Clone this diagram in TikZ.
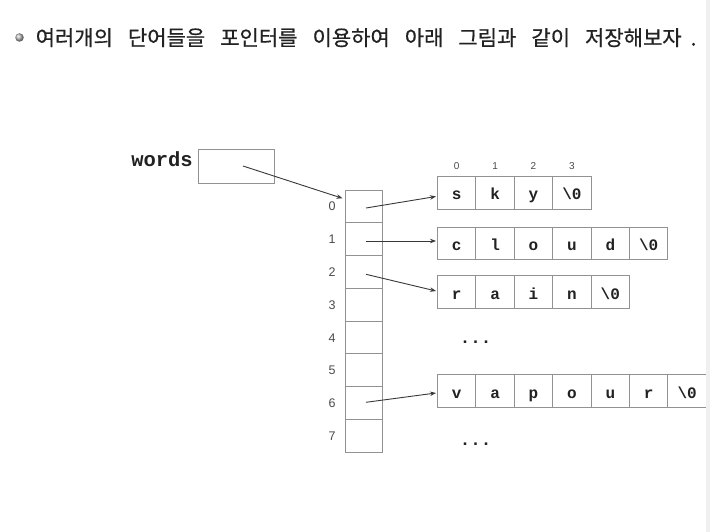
\documentclass[tikz,border=0pt]{standalone}
\usepackage{fontspec}
\setmainfont{Liberation Sans}
\newfontfamily\krfont[FakeBold=0.6]{Noto Sans CJK KR}
\newfontfamily\cellmono{Liberation Mono}
\usetikzlibrary{arrows.meta}
\newcommand\zchar{\textbackslash0}
\definecolor{boxgray}{HTML}{929292}
\definecolor{ptrgray}{HTML}{383838}
\definecolor{txtdark}{HTML}{222222}
\definecolor{lblgray}{HTML}{4A4A4A}
\tikzset{
  acell/.style={draw=boxgray, line width=0.9pt, minimum width=37.5pt, minimum height=32.75pt, inner sep=0pt},
  ccell/.style={draw=boxgray, line width=0.9pt, minimum width=38.4pt, minimum height=32.6pt, inner sep=0pt,
                text height=14pt, text depth=0pt, font=\cellmono\bfseries\fontsize{16}{16}\selectfont, text=txtdark},
  idxlabel/.style={anchor=base, inner sep=0pt, font=\fontsize{12.5}{13}\selectfont, text=lblgray},
  toplabel/.style={anchor=base, inner sep=0pt, font=\fontsize{10}{10}\selectfont, text=lblgray},
  ptr/.style={draw=ptrgray, line width=0.9pt, -{Stealth[length=6pt,width=4.5pt]}},
  dotsnode/.style={anchor=base, inner sep=0pt, font=\cellmono\bfseries\fontsize{17.5}{17.5}\selectfont, text=txtdark}
}
\begin{document}
\begin{tikzpicture}[x=1pt,y=-1pt]
\useasboundingbox (0,0) rectangle (710,532);
\fill[white] (0,0) rectangle (710,532);

% title
\node[circle, minimum size=8.5pt, inner sep=0pt, shading=ball, ball color=gray!55] (bullet) at (19.5,37.5) {};
\node[anchor=base west, inner sep=0pt, font=\krfont\fontsize{21}{21}\selectfont, text=txtdark] (title) at (35.5,45.5)
 {여러개의\hspace{15pt}단어들을\hspace{15pt}포인터를\hspace{15pt}이용하여\hspace{15pt}아래\hspace{15pt}그림과\hspace{15pt}같이\hspace{15pt}저장해보자\hspace{9pt}.};

% words box
\node[anchor=base east, inner sep=0pt, font=\cellmono\bfseries\fontsize{20.5}{20.5}\selectfont, text=txtdark] (wlabel) at (193,167) {words};
\node[draw=boxgray, line width=0.9pt, minimum width=75.6pt, minimum height=34.3pt, inner sep=0pt] (wbox) at (236.5,166.2) {};

% array
\foreach \i in {0,...,7} {
  \node[acell] (a\i) at (363.8, 206.35+\i*32.75) {};
  \node[idxlabel] (l\i) at (332, 211+\i*32.75) {\i};
}

% rows
\foreach \ch [count=\k from 0] in {s,k,y,\zchar} {
  \node[ccell] (sky\k) at (456.7+\k*38.4, 193) {\ch};
  \node[toplabel] (t\k) at (456.7+\k*38.4, 170) {\k};
}
\foreach \ch [count=\k from 0] in {c,l,o,u,d,\zchar}
  \node[ccell] (cloud\k) at (456.7+\k*38.4, 243.3) {\ch};
\foreach \ch [count=\k from 0] in {r,a,i,n,\zchar}
  \node[ccell] (rain\k) at (456.7+\k*38.4, 292.2) {\ch};
\foreach \ch [count=\k from 0] in {v,a,p,o,u,r,\zchar}
  \node[ccell] (vap\k) at (456.7+\k*38.4, 391.2) {\ch};

\node[dotsnode] (dotsA) at (475.5,343.5) {...};
\node[dotsnode] (dotsB) at (475.5,445) {...};

% pointers
\coordinate (ws) at (243,166);
\coordinate (we) at (342.5,198.3);
\draw[ptr] (ws) -- (we);
\coordinate (p0) at (366,208);   \coordinate (q0) at (436,196.5);
\coordinate (p1) at (366,241);   \coordinate (q1) at (436,241);
\coordinate (p2) at (366,274.3); \coordinate (q2) at (436,291);
\coordinate (p6) at (366,402.3); \coordinate (q6) at (436,393);
\draw[ptr] (p0) -- (q0);
\draw[ptr] (p1) -- (q1);
\draw[ptr] (p2) -- (q2);
\draw[ptr] (p6) -- (q6);

% right edge strip
\fill[gray!12] (706,0) rectangle (710,532);
\end{tikzpicture}
\end{document}
